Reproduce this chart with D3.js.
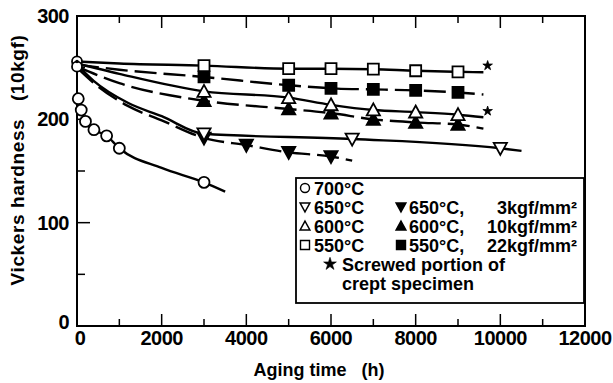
<!DOCTYPE html>
<html>
<head>
<meta charset="utf-8">
<script src="https://cdn.jsdelivr.net/npm/d3@7"></script>
<style>
  body { margin: 0; background: #fff; }
  svg { display: block; }
  text { font-family: "Liberation Sans", Arial, sans-serif; font-weight: bold; fill: #000; }
</style>
</head>
<body>
<svg width="613" height="383"></svg>
<script>
// marker data (aging time h, hardness)
var hours550 = [3000, 5000, 6000, 7000, 8000, 9000];
var open550 = [252, 249, 249, 248.5, 247, 246];
var filled550 = [241, 233, 230, 229, 228, 226];
var open600 = [227, 221, 214, 209, 207, 204.5];
var filled600 = [218, 210, 206, 200, 197, 195];
var hours700 = [30, 100, 200, 400, 700, 1000, 3000];
var open700 = [220, 209, 198, 190, 184, 172, 139];
var hoursOpen650 = [3000, 6500, 10000];
var open650 = [186, 181, 172];
var hoursFilled650 = [3000, 4000, 5000, 6000];
var filled650 = [182, 175, 168, 164];
var starHours = [9700, 9700];
var starValues = [252, 208];
var originValues = [256, 251];

// fitted curves drawn through the markers
var fitHours700 = [30, 100, 200, 400, 700, 1000, 2000, 3000, 3500];
var fit700 = [220, 209, 198, 190, 184, 172, 153, 139, 130];
var fitHoursOpen650 = [0, 400, 1200, 2000, 3000, 6500, 10000, 10500];
var fitOpen650 = [253, 237, 216, 203, 186, 181, 172, 169.5];
var fitHoursFilled650 = [0, 400, 1200, 2000, 3000, 4000, 5000, 6000, 6500];
var fitFilled650 = [250, 235, 213, 199, 182, 175, 168, 164, 160];
var fitHours = [0, 1000, 3000, 5000, 6000, 7000, 8000, 9000, 9600];
var fitOpen600 = [254, 244, 227, 221, 214, 209, 207, 204.5, 202];
var fitFilled600 = [251, 235, 218, 210, 206, 200, 197, 195, 191];
var fitOpen550 = [256, 254, 252, 249, 249, 248.5, 247, 246, 245.5];
var fitFilled550 = [253, 248, 241, 233, 230, 229, 228, 226, 224];

var xTicks = [0, 2000, 4000, 6000, 8000, 10000, 12000];
var yTicks = [0, 100, 200, 300];

var legendRows = [
  [{sym: "circle", label: "700°C"}],
  [{sym: "tridown", label: "650°C"}, {sym: "tridownF", label: "650°C,", unit: "3kgf/mm²"}],
  [{sym: "triup", label: "600°C"}, {sym: "triupF", label: "600°C,", unit: "10kgf/mm²"}],
  [{sym: "square", label: "550°C"}, {sym: "squareF", label: "550°C,", unit: "22kgf/mm²"}],
  [{sym: "star", label: "Screwed portion of"}],
  [{sym: null, label: "crept specimen"}]
];

var svg = d3.select("svg");
var x = d3.scaleLinear().domain([0, 12000]).range([77, 585]);
var y = d3.scaleLinear().domain([0, 300]).range([326, 16]);

function zip(xs, ys) { return xs.map(function(v, i) { return [v, ys[i]]; }); }

// frame
svg.append("rect").attr("x", x(0)).attr("y", y(300))
  .attr("width", x(12000) - x(0)).attr("height", y(0) - y(300))
  .attr("fill", "none").attr("stroke", "#000").attr("stroke-width", 2);

// inward ticks
var xMinor = d3.range(1000, 12000, 2000);
function xt(vals, len) {
  vals.forEach(function(v) {
    svg.append("line").attr("x1", x(v)).attr("x2", x(v)).attr("y1", y(0)).attr("y2", y(0) - len).attr("stroke", "#000").attr("stroke-width", 1.5);
    svg.append("line").attr("x1", x(v)).attr("x2", x(v)).attr("y1", y(300)).attr("y2", y(300) + len).attr("stroke", "#000").attr("stroke-width", 1.5);
  });
}
xt(xTicks.slice(1, -1), 12);
xt(xMinor, 7);
[50, 150, 250].forEach(function(v) {
  svg.append("line").attr("x1", x(0)).attr("x2", x(0) + 8).attr("y1", y(v)).attr("y2", y(v)).attr("stroke", "#000").attr("stroke-width", 1.5);
});
[100, 200].forEach(function(v) {
  svg.append("line").attr("x1", x(0)).attr("x2", x(0) + 13).attr("y1", y(v)).attr("y2", y(v)).attr("stroke", "#000").attr("stroke-width", 1.5);
});

// tick labels
svg.selectAll(".xl").data(xTicks).enter().append("text")
  .attr("x", function(d) { return x(d) + (d === 0 ? 3 : 0); })
  .attr("y", y(0) + 19)
  .attr("text-anchor", "middle").style("font-size", "20px").style("letter-spacing", "-0.5px")
  .text(function(d) { return d; });
svg.selectAll(".yl").data(yTicks).enter().append("text")
  .attr("x", 69).attr("y", function(d) { return y(d) + 7 - (d === 0 ? 4 : 0); })
  .attr("text-anchor", "end").style("font-size", "20px").style("letter-spacing", "-0.5px")
  .text(function(d) { return d; });

svg.append("text").attr("x", 319).attr("y", 376).attr("text-anchor", "middle")
  .style("font-size", "18px").style("white-space", "pre").text("Aging time   (h)");
svg.append("text").attr("transform", "translate(24,160) rotate(-90)").attr("text-anchor", "middle")
  .style("font-size", "19px").style("letter-spacing", "0.6px").style("white-space", "pre").text("Vickers hardness   (10kgf)");

// curves
var line = d3.line().x(function(d) { return x(d[0]); }).y(function(d) { return y(d[1]); }).curve(d3.curveMonotoneX);
var curves = [
  {pts: zip(fitHours700, fit700), dash: null},
  {pts: zip(fitHoursOpen650, fitOpen650), dash: null},
  {pts: zip(fitHoursFilled650, fitFilled650), dash: "22,7"},
  {pts: zip(fitHours, fitOpen600), dash: null},
  {pts: zip(fitHours, fitFilled600), dash: "22,7"},
  {pts: zip(fitHours, fitOpen550), dash: null},
  {pts: zip(fitHours, fitFilled550), dash: "22,7"}
];
svg.selectAll(".curve").data(curves).enter().append("path")
  .attr("d", function(d) { return line(d.pts); })
  .attr("fill", "none").attr("stroke", "#000").attr("stroke-width", 2.4)
  .attr("stroke-dasharray", function(d) { return d.dash; });

// marker symbols
function symPath(sym, size) {
  var s = size;
  if (sym === "circle") return d3.symbol(d3.symbolCircle, Math.PI * s * s / 4)();
  if (sym === "square" || sym === "squareF") return d3.symbol(d3.symbolSquare, s * s)();
  if (sym === "triup" || sym === "triupF") return "M0," + (-s * 0.55) + "L" + (s * 0.55) + "," + (s * 0.45) + "L" + (-s * 0.55) + "," + (s * 0.45) + "Z";
  if (sym === "tridown" || sym === "tridownF") return "M0," + (s * 0.55) + "L" + (s * 0.55) + "," + (-s * 0.45) + "L" + (-s * 0.55) + "," + (-s * 0.45) + "Z";
  if (sym === "star") return d3.symbol(d3.symbolStar, s * s * 0.35)();
}
function filled(sym) { return /F$/.test(sym) || sym === "star"; }
function drawMarkers(pts, sym, size) {
  svg.append("g").selectAll("path").data(pts).enter().append("path")
    .attr("transform", function(d) { return "translate(" + x(d[0]) + "," + y(d[1]) + ")"; })
    .attr("d", symPath(sym, size))
    .attr("fill", filled(sym) ? "#000" : "#fff")
    .attr("stroke", "#000").attr("stroke-width", sym === "star" ? 0.8 : 1.8);
}
drawMarkers(zip(hours700, open700), "circle", 11);
drawMarkers(zip([0, 0], originValues), "circle", 10);
svg.append("circle").attr("cx", x(0)).attr("cy", y(originValues[0])).attr("r", 1.8).attr("fill", "#000");
drawMarkers(zip(hoursFilled650, filled650), "tridownF", 12);
drawMarkers(zip(hoursOpen650, open650), "tridown", 12);
drawMarkers(zip(hours550, filled600), "triupF", 12);
drawMarkers(zip(hours550, open600), "triup", 12);
drawMarkers(zip(hours550, filled550), "squareF", 11);
drawMarkers(zip(hours550, open550), "square", 11);
drawMarkers(zip(starHours, starValues), "star", 9);

// legend
var lg = svg.append("g");
lg.append("rect").attr("x", 296).attr("y", 178).attr("width", 288).attr("height", 125)
  .attr("fill", "#fff").attr("stroke", "#000").attr("stroke-width", 1.8);
var colX = [[305, 314], [401, 409]];
legendRows.forEach(function(row, i) {
  var cy = 188 + i * 19;
  row.forEach(function(item, j) {
    var sx = colX[j][0], tx = colX[j][1];
    if (i >= 4) { sx = 330; tx = 342; }
    if (item.sym) {
      lg.append("path").attr("transform", "translate(" + sx + "," + cy + ")")
        .attr("d", symPath(item.sym, item.sym === "star" ? 12 : 9))
        .attr("fill", filled(item.sym) ? "#000" : "#fff")
        .attr("stroke", "#000").attr("stroke-width", item.sym === "star" ? 0.6 : 1.4);
    }
    lg.append("text").attr("x", tx).attr("y", cy + 6.5).style("font-size", "18px")
      .text(item.label);
    if (item.unit) {
      lg.append("text").attr("x", 577).attr("y", cy + 6.5).attr("text-anchor", "end")
        .style("font-size", "18px").text(item.unit);
    }
  });
});
</script>
</body>
</html>
